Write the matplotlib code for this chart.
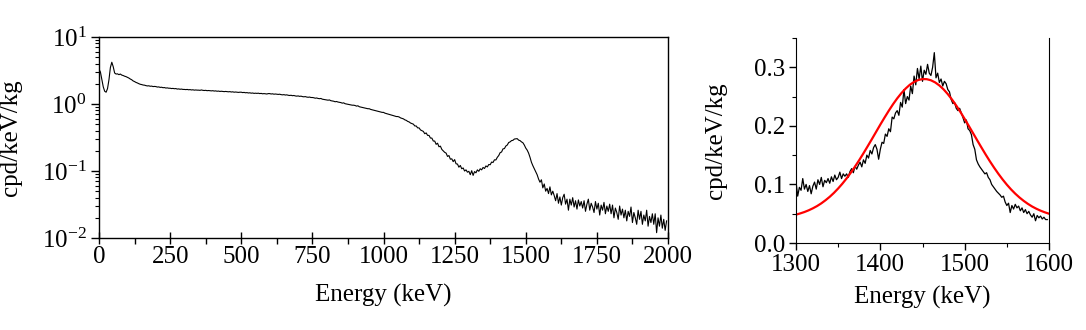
import numpy as np
import matplotlib
matplotlib.use("Agg")
import matplotlib.pyplot as plt
from matplotlib.ticker import MultipleLocator, LogLocator, NullFormatter, FormatStrFormatter

plt.rcParams['font.family'] = ['Liberation Serif', 'Nimbus Roman', 'Times New Roman', 'STIXGeneral', 'DejaVu Serif']
plt.rcParams['mathtext.fontset'] = 'stix'

# ---- full spectrum, 5 keV bins starting at 0 keV ----
full_start = 0
full_step = 5
full_counts = [
    3.30, 3.00, 2.30, 1.80, 1.55, 1.50, 1.70, 2.30, 3.50, 4.20,
    3.60, 2.90, 2.80, 2.82, 2.74, 2.80, 2.70, 2.66, 2.60, 2.56,
    2.50, 2.44, 2.36, 2.30, 2.21, 2.16, 2.10, 2.06, 2.01, 1.97,
    1.95, 1.92, 1.91, 1.88, 1.86, 1.87, 1.84, 1.85, 1.82, 1.83,
    1.82, 1.79, 1.80, 1.77, 1.78, 1.75, 1.76, 1.73, 1.74, 1.72,
    1.72, 1.70, 1.71, 1.69, 1.70, 1.67, 1.68, 1.66, 1.67, 1.65,
    1.65, 1.64, 1.65, 1.63, 1.64, 1.62, 1.63, 1.61, 1.62, 1.61,
    1.61, 1.60, 1.62, 1.60, 1.59, 1.60, 1.58, 1.59, 1.58, 1.57,
    1.58, 1.56, 1.57, 1.55, 1.56, 1.54, 1.55, 1.54, 1.53, 1.54,
    1.53, 1.52, 1.53, 1.51, 1.52, 1.50, 1.51, 1.50, 1.49, 1.50,
    1.50, 1.48, 1.49, 1.47, 1.48, 1.46, 1.47, 1.45, 1.46, 1.44,
    1.45, 1.44, 1.45, 1.43, 1.44, 1.42, 1.43, 1.42, 1.41, 1.43,
    1.43, 1.41, 1.42, 1.40, 1.41, 1.40, 1.39, 1.40, 1.38, 1.37,
    1.38, 1.36, 1.37, 1.35, 1.34, 1.35, 1.33, 1.34, 1.32, 1.31,
    1.32, 1.30, 1.31, 1.29, 1.28, 1.29, 1.27, 1.26, 1.27, 1.25,
    1.25, 1.24, 1.22, 1.23, 1.21, 1.20, 1.21, 1.18, 1.17, 1.16,
    1.15, 1.14, 1.15, 1.12, 1.11, 1.10, 1.08, 1.09, 1.07, 1.06,
    1.05, 1.03, 1.04, 1.01, 1.00, 0.99, 0.98, 0.97, 0.96, 0.96,
    0.95, 0.93, 0.94, 0.91, 0.90, 0.89, 0.88, 0.87, 0.86, 0.85,
    0.85, 0.83, 0.82, 0.81, 0.80, 0.79, 0.78, 0.77, 0.76, 0.75,
    0.75, 0.73, 0.72, 0.71, 0.70, 0.69, 0.68, 0.67, 0.66, 0.65,
    0.65, 0.64, 0.62, 0.61, 0.60, 0.58, 0.57, 0.55, 0.54, 0.52,
    0.51, 0.50, 0.47, 0.47, 0.44, 0.44, 0.41, 0.40, 0.39, 0.36,
    0.37, 0.34, 0.34, 0.31, 0.31, 0.28, 0.28, 0.25, 0.26, 0.23,
    0.235, 0.21, 0.20, 0.19, 0.185, 0.165, 0.17, 0.15, 0.152, 0.138,
    0.148, 0.128, 0.127, 0.114, 0.121, 0.108, 0.111, 0.100, 0.104, 0.096,
    0.099, 0.088, 0.101, 0.086, 0.098, 0.094, 0.104, 0.099, 0.108, 0.104,
    0.113, 0.109, 0.119, 0.115, 0.125, 0.124, 0.136, 0.134, 0.147, 0.146,
    0.160, 0.170, 0.188, 0.192, 0.214, 0.216, 0.236, 0.244, 0.266, 0.272,
    0.284, 0.287, 0.300, 0.302, 0.304, 0.289, 0.284, 0.272, 0.264, 0.244,
    0.220, 0.205, 0.185, 0.160, 0.135, 0.120, 0.108, 0.098, 0.088, 0.076,
    0.068, 0.074, 0.056, 0.064, 0.050, 0.055, 0.046, 0.058, 0.044, 0.050,
    0.043, 0.036, 0.046, 0.033, 0.041, 0.031, 0.040, 0.045, 0.032, 0.038,
    0.026, 0.038, 0.031, 0.040, 0.029, 0.036, 0.027, 0.037, 0.030, 0.035,
    0.028, 0.036, 0.025, 0.032, 0.038, 0.026, 0.033, 0.029, 0.024, 0.035,
    0.027, 0.033, 0.022, 0.031, 0.026, 0.034, 0.023, 0.030, 0.025, 0.032,
    0.023, 0.031, 0.020, 0.028, 0.024, 0.019, 0.030, 0.022, 0.027, 0.020,
    0.026, 0.018, 0.025, 0.021, 0.029, 0.017, 0.024, 0.020, 0.016, 0.026,
    0.019, 0.025, 0.016, 0.022, 0.018, 0.026, 0.015, 0.021, 0.017, 0.023,
    0.016, 0.023, 0.012, 0.020, 0.015, 0.022, 0.014, 0.019, 0.013, 0.018,
]

# ---- zoomed peak region, 2 keV bins from 1300 keV ----
zoom_start = 1300
zoom_step = 2
zoom_counts = [
    0.105, 0.080, 0.095, 0.090, 0.110, 0.092, 0.100, 0.088, 0.098, 0.084,
    0.097, 0.104, 0.092, 0.108, 0.100, 0.112, 0.096, 0.107, 0.103, 0.110,
    0.102, 0.113, 0.105, 0.116, 0.108, 0.112, 0.121, 0.110, 0.118, 0.114,
    0.118, 0.112, 0.122, 0.127, 0.120, 0.131, 0.126, 0.133, 0.138, 0.130,
    0.142, 0.136, 0.150, 0.145, 0.158, 0.152, 0.163, 0.168, 0.160, 0.143,
    0.160, 0.172, 0.170, 0.186, 0.182, 0.195, 0.190, 0.215, 0.212, 0.222,
    0.226, 0.218, 0.240, 0.232, 0.262, 0.238, 0.250, 0.244, 0.268, 0.255,
    0.285, 0.270, 0.298, 0.280, 0.302, 0.276, 0.295, 0.288, 0.305, 0.290,
    0.286, 0.300, 0.325, 0.282, 0.290, 0.274, 0.280, 0.268, 0.276, 0.272,
    0.262, 0.258, 0.245, 0.238, 0.240, 0.230, 0.226, 0.230, 0.222, 0.214,
    0.205, 0.210, 0.195, 0.192, 0.185, 0.168, 0.160, 0.142, 0.135, 0.130,
    0.126, 0.122, 0.118, 0.120, 0.112, 0.108, 0.100, 0.096, 0.092, 0.088,
    0.085, 0.082, 0.078, 0.080, 0.070, 0.064, 0.068, 0.052, 0.064, 0.058,
    0.066, 0.060, 0.063, 0.055, 0.060, 0.052, 0.057, 0.050, 0.054, 0.048,
    0.044, 0.050, 0.038, 0.047, 0.043, 0.046, 0.041, 0.044, 0.040, 0.040,
]

# ---- fit curve, sampled every 5 keV from 1300 keV ----
fit_start = 1300
fit_step = 5
fit_values = [
    0.0484, 0.0505, 0.0529, 0.0558, 0.0592, 0.0631, 0.0677, 0.0730, 0.0789, 0.0856,
    0.0931, 0.1013, 0.1103, 0.1201, 0.1305, 0.1416, 0.1532, 0.1652, 0.1774, 0.1898,
    0.2022, 0.2142, 0.2258, 0.2368, 0.2469, 0.2559, 0.2637, 0.2702, 0.2750, 0.2783,
    0.2799, 0.2797, 0.2778, 0.2742, 0.2690, 0.2623, 0.2542, 0.2449, 0.2347, 0.2236,
    0.2118, 0.1997, 0.1874, 0.1750, 0.1628, 0.1508, 0.1393, 0.1284, 0.1181, 0.1085,
    0.0996, 0.0915, 0.0842, 0.0777, 0.0719, 0.0668, 0.0623, 0.0585, 0.0552, 0.0524,
    0.0500,
]

full_e = full_start + full_step * np.arange(len(full_counts))
zoom_e = zoom_start + zoom_step * np.arange(len(zoom_counts))
fit_e = fit_start + fit_step * np.arange(len(fit_values))

FS = 18
fig = plt.figure(figsize=(10.86, 3.30), dpi=100)

# ---------- left panel ----------
ax1 = fig.add_axes([99/1086, 1 - 238/330, 569/1086, 201/330])
ax1.plot(full_e, full_counts, color='black', lw=0.8)
ax1.set_yscale('log')
ax1.set_xlim(0, 2000)
ax1.set_ylim(1e-2, 1e1)
ax1.xaxis.set_major_locator(MultipleLocator(250))
ax1.xaxis.set_minor_locator(MultipleLocator(125))
ax1.yaxis.set_major_locator(LogLocator(base=10, numticks=10))
ax1.yaxis.set_minor_locator(LogLocator(base=10, subs=np.arange(2, 10), numticks=20))
ax1.yaxis.set_minor_formatter(NullFormatter())
ax1.tick_params(axis='x', which='major', direction='inout', length=8, width=1, labelsize=FS, pad=2)
ax1.tick_params(axis='x', which='minor', direction='out', length=4, width=1)
ax1.tick_params(axis='y', which='major', direction='out', length=6, width=1, labelsize=FS, pad=3)
ax1.tick_params(axis='y', which='minor', direction='out', length=3, width=0.8)
ax1.set_xlabel('Energy (keV)', fontsize=FS, labelpad=11)
ax1.set_ylabel('cpd/keV/kg', fontsize=FS, labelpad=14)
for s in ax1.spines.values():
    s.set_linewidth(1.0)

# ---------- right panel ----------
ax2 = fig.add_axes([796/1086, 1 - 243/330, 253/1086, 205/330])
ax2.plot(zoom_e, zoom_counts, color='black', lw=0.9)
ax2.plot(fit_e, fit_values, color='#ff0000', lw=1.6)
ax2.set_xlim(1300, 1600)
ax2.set_ylim(0, 0.35)
ax2.xaxis.set_major_locator(MultipleLocator(100))
ax2.xaxis.set_minor_locator(MultipleLocator(50))
ax2.yaxis.set_major_locator(MultipleLocator(0.1))
ax2.yaxis.set_minor_locator(MultipleLocator(0.05))
ax2.yaxis.set_major_formatter(FormatStrFormatter('%.1f'))
ax2.tick_params(axis='both', which='major', direction='out', length=5, width=1, labelsize=FS, pad=3)
ax2.tick_params(axis='both', which='minor', direction='out', length=3, width=0.8)
ax2.spines['top'].set_visible(False)
ax2.set_xlabel('Energy (keV)', fontsize=FS, labelpad=7)
ax2.set_ylabel('cpd/keV/kg', fontsize=FS, labelpad=19)

fig.savefig('out.png', dpi=100)
